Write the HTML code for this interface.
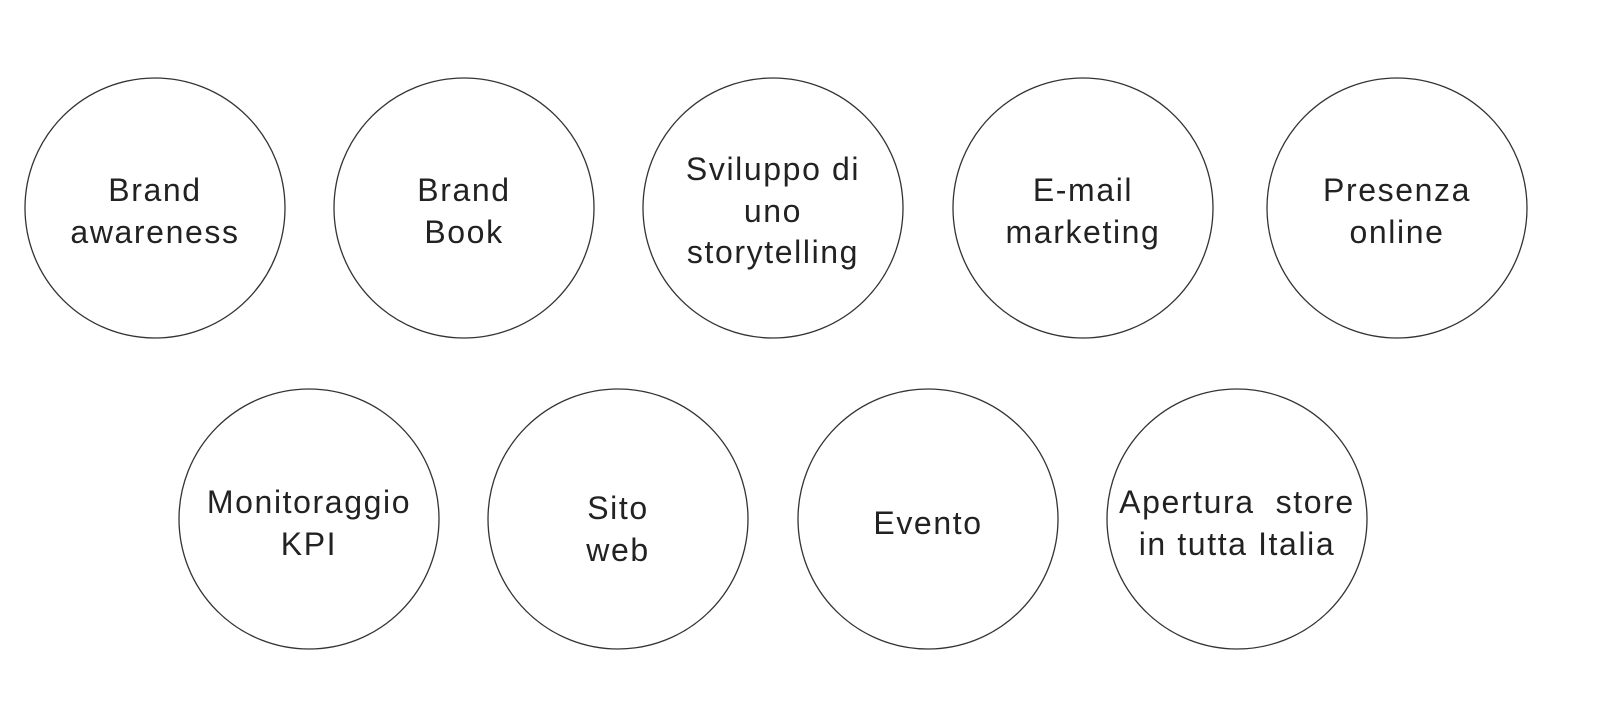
<!DOCTYPE html>
<html><head><meta charset="utf-8"><style>
html,body{margin:0;padding:0;background:#fff;}
svg{display:block;}
text{font-family:"Liberation Sans",sans-serif;font-size:32px;fill:#222;text-anchor:middle;letter-spacing:1.6px;white-space:pre;}
circle{fill:none;stroke:#333;stroke-width:1.3;}
</style></head><body>
<svg width="1600" height="710" viewBox="0 0 1600 710">
<circle cx="155" cy="208" r="130"/>
<circle cx="464" cy="208" r="130"/>
<circle cx="773" cy="208" r="130"/>
<circle cx="1083" cy="208" r="130"/>
<circle cx="1397" cy="208" r="130"/>
<circle cx="309" cy="519" r="130"/>
<circle cx="618" cy="519" r="130"/>
<circle cx="928" cy="519" r="130"/>
<circle cx="1237" cy="519" r="130"/>
<text x="155" y="201">Brand</text><text x="155" y="243">awareness</text>
<text x="464" y="201">Brand</text><text x="464" y="243">Book</text>
<text x="773" y="180">Sviluppo di</text><text x="773" y="222">uno</text><text x="773" y="263">storytelling</text>
<text x="1083" y="201">E-mail</text><text x="1083" y="243">marketing</text>
<text x="1397" y="201">Presenza</text><text x="1397" y="243">online</text>
<text x="309" y="513">Monitoraggio</text><text x="309" y="555">KPI</text>
<text x="618" y="519">Sito</text><text x="618" y="561">web</text>
<text x="928" y="534">Evento</text>
<text x="1237" y="513" xml:space="preserve">Apertura  store</text><text x="1237" y="555">in tutta Italia</text>
</svg>
</body></html>
